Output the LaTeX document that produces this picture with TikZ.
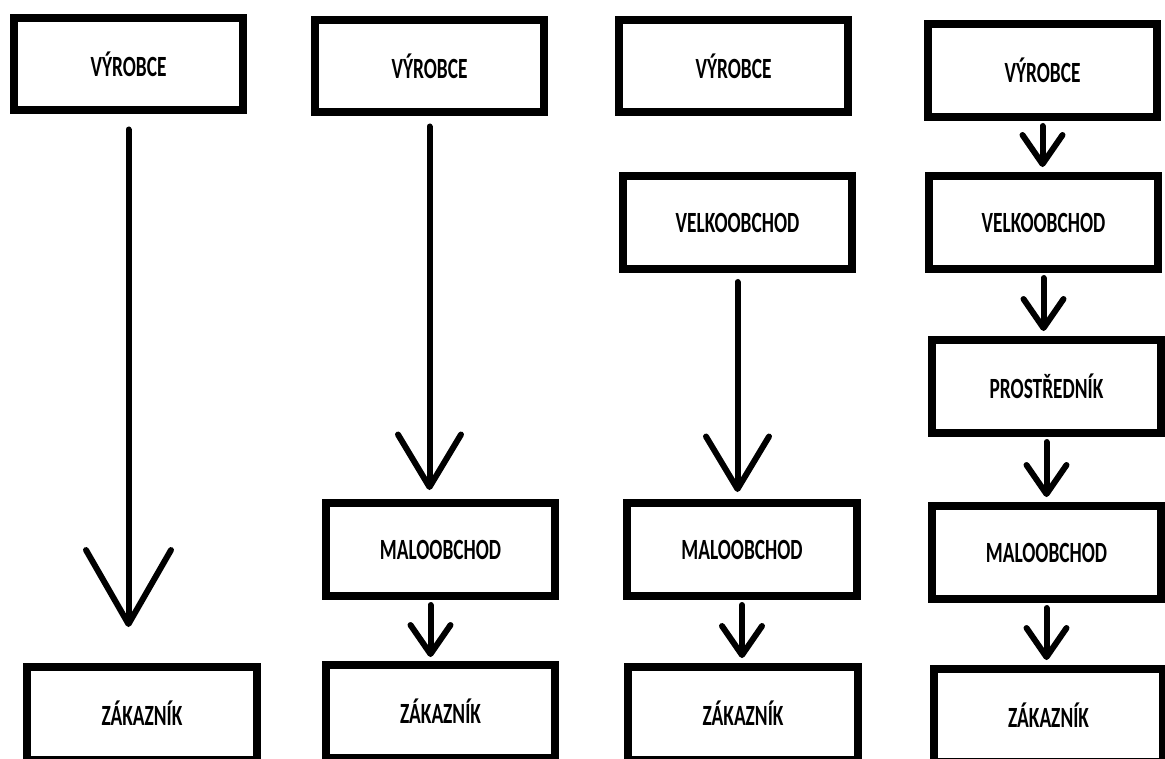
\documentclass[tikz,border=0pt]{standalone}
\usepackage{fontspec}
\newfontfamily\boxfont{Carlito}[FakeStretch=0.66]
\usetikzlibrary{arrows.meta}

\begin{document}
\begin{tikzpicture}[x=0.02cm,y=-0.02cm]
            \tikzstyle{stage}=[draw,line width=0.16cm,minimum width=4.6cm,minimum height=1.86cm,inner sep=0,font=\boxfont\bfseries\fontsize{16.7}{20}\selectfont];
            \tikzstyle{flow}=[line width=0.12cm,line cap=round,line join=round];
            \tikzstyle{short tip}=[flow,-{Straight Barb[round,length=0.58cm,width=0.8cm]}];
            \tikzstyle{long tip}=[flow,-{Straight Barb[round,length=1.05cm,width=1.26cm]}];
            \tikzstyle{huge tip}=[flow,-{Straight Barb[round,length=1.48cm,width=1.7cm]}];
            \useasboundingbox (0,0) rectangle (1165,758);
            % direct
            \node[stage] (v1) at (128.5,64) {VÝROBCE};
            \node[stage] (z1) at (142,713.5) {ZÁKAZNÍK};
            % through retail
            \node[stage] (v2) at (429.5,66) {VÝROBCE};
            \node[stage] (m2) at (440.5,549.5) {MALOOBCHOD};
            \node[stage] (z2) at (440.5,711.5) {ZÁKAZNÍK};
            % through wholesale
            \node[stage] (v3) at (733.5,66) {VÝROBCE};
            \node[stage] (ve3) at (737.5,222.5) {VELKOOBCHOD};
            \node[stage] (m3) at (742,549.5) {MALOOBCHOD};
            \node[stage] (z3) at (743,713.5) {ZÁKAZNÍK};
            % full chain
            \node[stage] (v4) at (1042.5,70.5) {VÝROBCE};
            \node[stage] (ve4) at (1043.5,222.5) {VELKOOBCHOD};
            \node[stage] (p4) at (1046.5,386.5) {PROSTŘEDNÍK};
            \node[stage] (m4) at (1046.5,552.5) {MALOOBCHOD};
            \node[stage] (z4) at (1048.5,715.5) {ZÁKAZNÍK};
            % arrows
            \draw[huge tip,shorten <=0.3cm,shorten >=0.72cm] (v1.south) -- (v1.south |- z1.north);
            \draw[long tip,shorten <=0.2cm,shorten >=0.18cm] (v2.south) -- (v2.south |- m2.north);
            \draw[long tip,shorten <=0.18cm,shorten >=0.14cm] (ve3.south) -- (ve3.south |- m3.north);
            \draw[short tip,shorten <=0.1cm,shorten >=0.08cm] ([xshift=-0.2cm]m2.south) -- ([xshift=-0.2cm]m2.south |- z2.north);
            \foreach \a/\b in {m3/z3,v4/ve4,ve4/p4,p4/m4,m4/z4}
                \draw[short tip,shorten <=0.1cm,shorten >=0.1cm] (\a.south) -- (\a.south |- \b.north);
\end{tikzpicture}
\end{document}
